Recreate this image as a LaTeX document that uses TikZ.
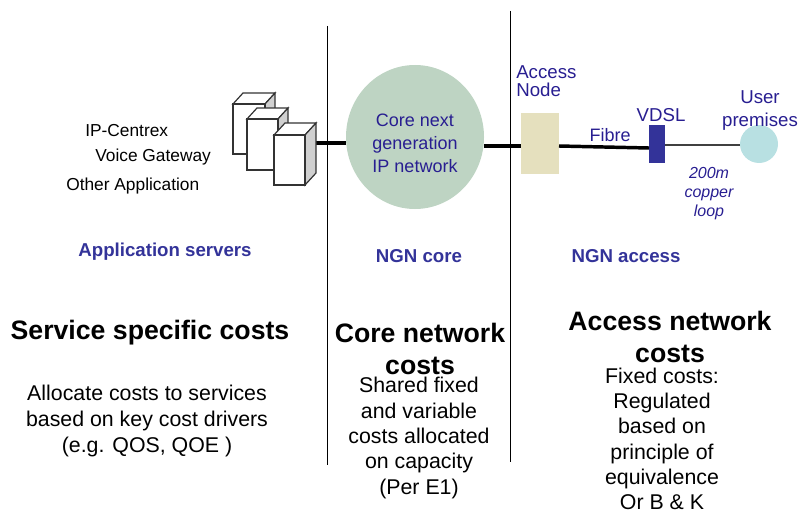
\documentclass[tikz,border=0pt]{standalone}
\usepackage{fontspec}
\setmainfont{Liberation Sans}
\usetikzlibrary{shapes.geometric,calc}
\definecolor{navy}{RGB}{40,30,145}
\definecolor{headc}{RGB}{51,51,153}
\definecolor{corec}{RGB}{190,212,195}
\definecolor{accessc}{RGB}{229,224,190}
\definecolor{userc}{RGB}{184,224,226}
\definecolor{vdslc}{RGB}{51,51,153}
\definecolor{sidec}{RGB}{208,208,208}
\tikzset{
 x=0.75pt,y=-0.75pt,
 lab/.style={inner sep=0,align=left,anchor=west,font=\fontsize{13}{15}\selectfont},
 head/.style={inner sep=0,align=center,text=headc,font=\fontsize{14}{15}\bfseries\selectfont},
 big/.style={inner sep=0,align=center,font=\fontsize{20}{24.5}\bfseries\selectfont},
 body/.style={inner sep=0,align=center,font=\fontsize{16}{19.5}\selectfont},
 small/.style={inner sep=0,align=center,text=navy,font=\fontsize{14}{13.5}\selectfont},
 note/.style={inner sep=0,align=center,text=navy,font=\fontsize{12}{14.25}\itshape\selectfont},
 divider/.style={draw=black,line width=0.7pt},
 thick link/.style={draw=black,line width=2.6pt},
 thin link/.style={draw=black!75,line width=0.9pt},
 srv/.style={draw=black!80,fill=white,line width=0.9pt,line join=miter},
 srvside/.style={draw=black!80,fill=sidec,line width=0.9pt,line join=miter},
 plain/.style={inner sep=0,outer sep=0,draw=none}
}
\newcommand{\srvbox}[6]{% x0 x1 ytop ybot dx dy
\draw[srv] (#1,#3)--(#1+#5,#3-#6)--(#2+#5,#3-#6)--(#2,#3)--cycle;
\draw[srvside] (#2,#3)--(#2+#5,#3-#6)--(#2+#5,#4-#6)--(#2,#4)--cycle;
\draw[srv] (#1,#3) rectangle (#2,#4);}
\begin{document}
\begin{tikzpicture}
\useasboundingbox (0,0) rectangle (798,510);
\coordinate (d1a) at (327,26); \coordinate (d1b) at (327,465);
\coordinate (d2a) at (510,11); \coordinate (d2b) at (510,462);
\draw[divider] (d1a)--(d1b);
\draw[divider] (d2a)--(d2b);
\node[plain,fill=corec,ellipse,minimum width=103.5pt,minimum height=108pt] (corenet) at (415,137) {};
\node[plain,fill=accessc,minimum width=28.5pt,minimum height=45.75pt] (anode) at (540,143.5) {};
\node[plain,fill=vdslc,minimum width=12pt,minimum height=28.5pt] (vdsl) at (657,144) {};
\node[plain,fill=userc,circle,minimum size=28.5pt] (user) at (759,144) {};
\coordinate (srvout) at (316,143);
\draw[thick link] (srvout)--(corenet.west |- srvout);
\draw[thick link] (corenet.east |- 0,146)--(anode.west |- 0,146);
\draw[thick link] (anode.east |- 0,146)--(vdsl.west |- 0,148);
\draw[thin link] (vdsl.east |- 0,145)--(user.west |- 0,145);
\srvbox{233}{265}{104}{154}{10}{11}
\srvbox{247}{278}{119}{170}{10}{11}
\srvbox{274}{305}{135}{185}{11}{12}
\node[lab] (t1) at (85,131) {IP-Centrex};
\node[lab] (t2) at (95,157) {Voice Gateway};
\node[lab] (t3) at (66,186) {Other Application};
\node[small,font=\fontsize{13.5}{17.25}\selectfont] (t4) at (415,143) {Core next\\generation\\IP network};
\node[small,align=left,anchor=west,font=\fontsize{14}{13.5}\selectfont] (t5) at (516,81) {Access\\Node};
\node[small] (t6) at (661,115) {VDSL};
\node[small,font=\fontsize{13.5}{13.5}\selectfont] (t7) at (610,135) {Fibre};
\node[small,font=\fontsize{14}{17}\selectfont] (t8) at (760,110.5) {User\\premises};
\node[note] (t9) at (709,194) {200m\\copper\\loop};
\node[head] (h1) at (165,252) {Application servers};
\node[head] (h2) at (419,256) {NGN core};
\node[head] (h3) at (626,256) {NGN access};
\node[big] (b1) at (150,333) {Service specific costs};
\node[big] (b2) at (420,349) {Core network\\costs};
\node[big] (b3) at (670,337) {Access network\\costs};
\node[body] (c1) at (147,420.5) {Allocate costs to services\\based on key cost drivers\\(e.g. QOS, QOE )};
\node[body,font=\fontsize{16}{19}\selectfont] (c2) at (419,438) {Shared fixed\\and variable\\costs allocated\\on capacity\\(Per E1)};
\node[body,font=\fontsize{16}{19}\selectfont] (c3) at (662,439) {Fixed costs:\\Regulated\\based on\\principle of\\equivalence\\Or B \& K};
\end{tikzpicture}
\end{document}
